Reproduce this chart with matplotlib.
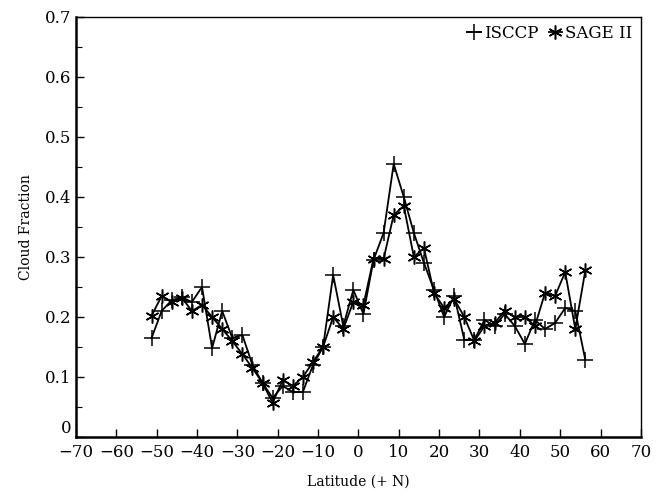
import matplotlib
matplotlib.use("Agg")
from matplotlib import pyplot as plt
from matplotlib.ticker import MultipleLocator
import numpy as np

# latitude bins, 2.5 degree steps
lat = np.arange(-51.25, 57.5, 2.5)

isccp = [0.165, 0.21, 0.228, 0.233, 0.225, 0.25, 0.148, 0.21, 0.165, 0.17,
         0.12, 0.09, 0.065, 0.085, 0.075, 0.075, 0.12, 0.15, 0.27, 0.185,
         0.245, 0.205, 0.295, 0.34, 0.455, 0.40, 0.34, 0.29, 0.245, 0.20,
         0.235, 0.162, 0.162, 0.195, 0.185, 0.205, 0.185, 0.155, 0.195, 0.18,
         0.19, 0.215, 0.21, 0.128]

sage = [0.202, 0.235, 0.225, 0.232, 0.21, 0.22, 0.20, 0.18, 0.16, 0.138,
        0.115, 0.09, 0.057, 0.095, 0.085, 0.10, 0.125, 0.15, 0.20, 0.18,
        0.225, 0.22, 0.297, 0.297, 0.37, 0.385, 0.30, 0.315, 0.24, 0.215,
        0.23, 0.20, 0.16, 0.185, 0.19, 0.21, 0.20, 0.20, 0.185, 0.24,
        0.235, 0.275, 0.18, 0.278]

plt.rcParams["font.family"] = "DejaVu Serif"
plt.rcParams["font.size"] = 12

fig = plt.figure(figsize=(6.6, 4.98), dpi=100)
ax = fig.add_axes([0.115, 0.1225, 0.856, 0.8435])

ax.plot(lat, isccp, color="black", lw=1.3, marker="+", ms=12, mew=1.1, label="ISCCP")
ax.plot(lat, sage, color="black", lw=1.3, marker=(6, 2, 0), ms=10, mew=1.1, label="SAGE II")

ax.set_xlim(-70, 70)
ax.set_ylim(0, 0.7)
ax.xaxis.set_major_locator(MultipleLocator(10))
ax.yaxis.set_minor_locator(MultipleLocator(0.05))
ax.set_yticks(np.arange(0, 0.71, 0.1))
ax.set_yticklabels(["0", "0.1", "0.2", "0.3", "0.4", "0.5", "0.6", "0.7"])
ax.tick_params(direction="in", which="both", top=False, right=False, labelsize=12)
ax.tick_params(which="major", length=6, width=1.0)
ax.tick_params(which="minor", length=4, width=0.8)
ax.tick_params(axis="x", pad=5)
# lift the "0" a bit so it clears the -70
ax.get_yticklabels()[0].set_verticalalignment("bottom")

for side in ["left", "bottom"]:
    ax.spines[side].set_linewidth(1.8)
for side in ["top", "right"]:
    ax.spines[side].set_linewidth(1.0)

ax.set_xlabel("Latitude (+ N)", fontsize=10, labelpad=10)
ax.set_ylabel("Cloud Fraction", fontsize=10, labelpad=8)

ax.legend(loc="upper right", ncol=2, frameon=False, handlelength=0.8,
          handletextpad=0.2, columnspacing=0.6, borderaxespad=0.1, fontsize=12)

fig.savefig("out.png", dpi=100)
